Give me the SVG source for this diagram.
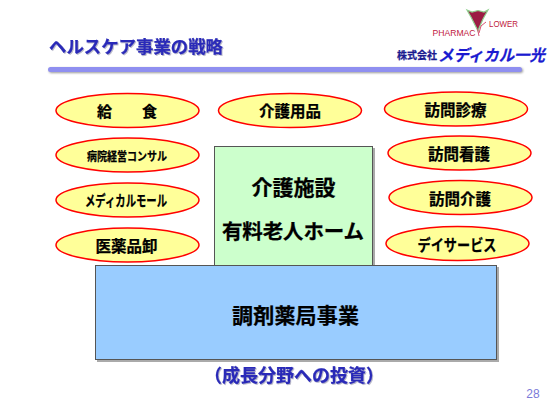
<svg xmlns="http://www.w3.org/2000/svg" width="560" height="420" viewBox="0 0 560 420">
<style>
text{font-family:"Noto Sans CJK JP","Liberation Sans",sans-serif;font-weight:700;text-anchor:middle;fill:#000;stroke:#000;stroke-width:.25}
.e{fill:#ffff99;stroke:#ff0000;stroke-width:1.5}
.t{fill:#2a2ab8;stroke:#2a2ab8;filter:drop-shadow(1px 1px 0 #b8b8c8)}
.box{stroke:#555;stroke-width:1;filter:drop-shadow(2px 2px 0 #aaa)}
.l{font-size:15.5px}
.a{fill:#c02040;stroke:none;font-family:"Liberation Sans",sans-serif;font-weight:400;font-size:9px}
</style>
<rect width="560" height="420" fill="#fff"/>
<g id="title">
<text class="t" x="136" y="53" font-size="17" textLength="174" lengthAdjust="spacingAndGlyphs">ヘルスケア事業の戦略</text>
<rect x="48" y="67" width="474" height="5" rx="2.5" fill="#8f8ff0" style="filter:drop-shadow(1px 1px 1px #999)"/>
</g>
<g id="logo">
<text class="a" x="454" y="35.500" textLength="43" lengthAdjust="spacingAndGlyphs">PHARMAC</text>
<text class="a" x="503.500" y="27" textLength="29" lengthAdjust="spacingAndGlyphs">LOWER</text>
<path d="M467 10 L472 12 L478 10.500 L484 12 L488 10 L483 19 L479.500 27 L478 31 L476 27 L471.500 18Z" fill="#9c1c44" stroke="#8ed08e" stroke-width="1.200"/>
<path d="M477.500 29 L479 36 M486 22 L481 26 L479 33" stroke="#d85070" stroke-width="1" fill="none"/>
<text x="417" y="59" font-size="10" style="fill:#1a1a90;stroke:#1a1a90" textLength="40">株式会社</text>
<text x="491.500" y="61" font-size="16" font-style="italic" style="fill:#1a1ad0;stroke:#1a1ad0" textLength="107" lengthAdjust="spacingAndGlyphs">メディカル一光</text>
</g>
<g id="n-kyushoku"><ellipse class="e" cx="127.500" cy="110.500" rx="71.500" ry="17"/><text x="127" y="117" font-size="15" xml:space="preserve">給　　食</text></g>
<g id="n-keiei"><ellipse class="e" cx="127.500" cy="155" rx="71.500" ry="17"/><text x="127" y="161" font-size="12" textLength="80" lengthAdjust="spacingAndGlyphs">病院経営コンサル</text></g>
<g id="n-mall"><ellipse class="e" cx="127.500" cy="200" rx="71.500" ry="17"/><text x="126" y="206" font-size="15" textLength="82" lengthAdjust="spacingAndGlyphs">メディカルモール</text></g>
<g id="n-oroshi"><ellipse class="e" cx="127.500" cy="245" rx="71.500" ry="17"/><text class="l" x="126.500" y="252" textLength="62">医薬品卸</text></g>
<g id="n-yohin"><ellipse class="e" cx="290" cy="110.500" rx="71.500" ry="17"/><text class="l" x="290" y="117" textLength="62">介護用品</text></g>
<g id="n-shinryo"><ellipse class="e" cx="456" cy="109" rx="71.500" ry="17"/><text class="l" x="455.500" y="115.500" textLength="62">訪問診療</text></g>
<g id="n-kango"><ellipse class="e" cx="459.500" cy="153" rx="71.500" ry="17"/><text class="l" x="459" y="160" textLength="62">訪問看護</text></g>
<g id="n-kaigo"><ellipse class="e" cx="460.500" cy="197.500" rx="71.500" ry="17"/><text class="l" x="460" y="204.500" textLength="62">訪問介護</text></g>
<g id="n-day"><ellipse class="e" cx="457.500" cy="243.500" rx="71.500" ry="17"/><text class="l" x="457" y="251" textLength="79" lengthAdjust="spacingAndGlyphs">デイサービス</text></g>
<g id="n-shisetsu">
<rect class="box" x="214.500" y="146.500" width="158" height="120" fill="#ccffcc"/>
<text x="293.500" y="195" font-size="21" textLength="84">介護施設</text>
<text x="293" y="239" font-size="20.500" textLength="142">有料老人ホーム</text>
</g>
<g id="n-chozai">
<rect class="box" x="95.500" y="265.500" width="401" height="94" fill="#99ccff"/>
<text x="295.500" y="323" font-size="21" textLength="127">調剤薬局事業</text>
</g>
<text class="t" x="294" y="381.500" font-size="18" textLength="180">（成長分野への投資）</text>
<text x="533" y="398" font-size="12" style="fill:#7a7ad8;stroke:none;font-family:'Liberation Sans',sans-serif;font-weight:400">28</text>
</svg>
